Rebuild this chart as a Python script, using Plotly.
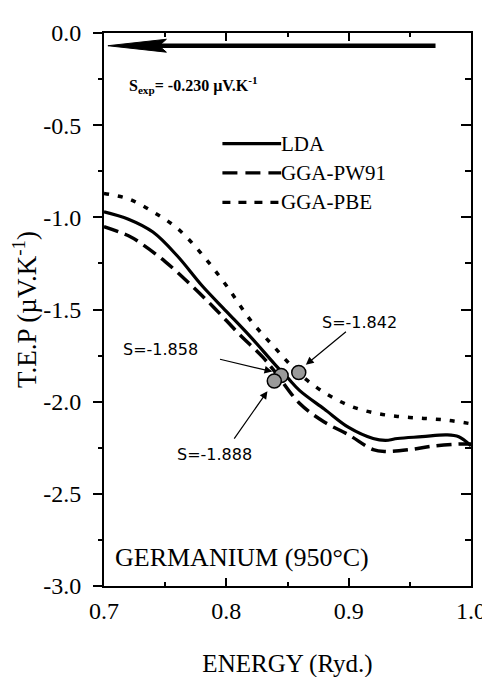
import plotly.graph_objects as go

# ---- data ----
lda_x = [0.70, 0.72, 0.74, 0.76, 0.78, 0.80, 0.82, 0.84, 0.85, 0.86, 0.88, 0.90, 0.92, 0.93, 0.94, 0.96, 0.98, 0.99, 1.00]
lda_y = [-0.97, -1.01, -1.08, -1.21, -1.37, -1.51, -1.65, -1.80, -1.87, -1.94, -2.04, -2.14, -2.20, -2.21, -2.20, -2.19, -2.18, -2.19, -2.24]

pw91_x = [0.70, 0.72, 0.73, 0.75, 0.77, 0.79, 0.81, 0.83, 0.84, 0.86, 0.88, 0.90, 0.92, 0.93, 0.95, 0.97, 0.99, 1.00]
pw91_y = [-1.05, -1.10, -1.14, -1.24, -1.36, -1.49, -1.63, -1.76, -1.84, -2.01, -2.11, -2.18, -2.26, -2.27, -2.26, -2.24, -2.23, -2.23]

pbe_x = [0.70, 0.72, 0.74, 0.76, 0.78, 0.80, 0.82, 0.84, 0.86, 0.88, 0.90, 0.92, 0.94, 0.96, 0.98, 1.00]
pbe_y = [-0.87, -0.90, -0.97, -1.06, -1.20, -1.37, -1.56, -1.71, -1.85, -1.95, -2.02, -2.06, -2.08, -2.09, -2.10, -2.12]

point_names = ["LDA", "GGA-PW91", "GGA-PBE"]
point_x = [0.8448, 0.8392, 0.8592]
point_y = [-1.858, -1.888, -1.842]
point_labels = ["S=-1.858", "S=-1.888", "S=-1.842"]

s_exp_text = "S<sub>exp</sub>= -0.230 µV.K<sup>-1</sup>"
sample_text = "GERMANIUM (950°C)"

x_ticks = [0.7, 0.8, 0.9, 1.0]
x_tick_labels = ["0.7", "0.8", "0.9", "1.0"]
y_ticks = [0.0, -0.5, -1.0, -1.5, -2.0, -2.5, -3.0]
y_tick_labels = ["0.0", "-0.5", "-1.0", "-1.5", "-2.0", "-2.5", "-3.0"]

SERIF = "Liberation Serif, Times New Roman, serif"
SANS = "DejaVu Sans"

fig = go.Figure()
fig.add_trace(go.Scatter(x=lda_x, y=lda_y, mode="lines", line=dict(color="black", width=3.2, shape="spline"), showlegend=False))
fig.add_trace(go.Scatter(x=pw91_x, y=pw91_y, mode="lines", line=dict(color="black", width=3.5, dash="15px,7px", shape="spline"), showlegend=False))
fig.add_trace(go.Scatter(x=pbe_x, y=pbe_y, mode="lines", line=dict(color="black", width=3.5, dash="5px,9px", shape="spline"), showlegend=False))
fig.add_trace(go.Scatter(x=point_x, y=point_y, mode="markers",
                         marker=dict(size=14, color="#9a9a9a", line=dict(color="black", width=1.5)),
                         showlegend=False))
# dummy trace for the right-side tick axis
fig.add_trace(go.Scatter(x=[], y=[], yaxis="y2", showlegend=False))

shapes = []
# experimental arrow
shapes.append(dict(type="line", xref="x", yref="y", x0=0.745, x1=0.971, y0=-0.069, y1=-0.069,
                   line=dict(color="black", width=4.5)))
shapes.append(dict(type="path", xref="x", yref="y",
                   path="M 0.7032,-0.069 L 0.751,-0.034 L 0.745,-0.069 L 0.751,-0.104 Z",
                   fillcolor="black", line=dict(color="black", width=1)))
# legend samples
leg_y = [(584 - 132) / 565, (584 - 162) / 565, (584 - 192) / 565]
leg_dash = ["solid", "15px,8px", "8px,8px"]
for yy, d in zip(leg_y, leg_dash):
    shapes.append(dict(type="line", xref="paper", yref="paper", x0=(217 - 96) / 375, x1=(277 - 96) / 375, y0=yy, y1=yy,
                       line=dict(color="black", width=3.2, dash=d)))

annotations = []
for yy, name in zip(leg_y, point_names):
    annotations.append(dict(xref="paper", yref="paper", x=(277 - 96) / 375, y=yy, text=name, showarrow=False,
                            xanchor="left", yanchor="middle", xshift=-2,
                            font=dict(family=SERIF, size=21, color="black")))
annotations.append(dict(xref="paper", yref="paper", x=0.062, y=0.906, text="<b>" + s_exp_text + "</b>",
                        showarrow=False, xanchor="left", yanchor="middle",
                        font=dict(family=SERIF, size=16, color="black")))
annotations.append(dict(xref="paper", yref="paper", x=0.025, y=0.051, text=sample_text, showarrow=False,
                        xanchor="left", yanchor="middle", font=dict(family=SERIF, size=26, color="black")))
# S labels
lab_pos = [(0.7464, -1.715), (0.7904, -2.289), (0.9088, -1.572)]
for (lx, ly), t in zip(lab_pos, point_labels):
    annotations.append(dict(x=lx, y=ly, text=t, showarrow=False, xanchor="center", yanchor="middle",
                            font=dict(family=SANS, size=16, color="black")))
# thin arrows
arrows = [((0.7936, -1.768), (0.8376, -1.837)),
          ((0.8056, -2.209), (0.8336, -1.943)),
          ((0.899, -1.614), (0.865, -1.80))]
for (tx, ty), (hx, hy) in arrows:
    annotations.append(dict(x=hx, y=hy, ax=tx, ay=ty, axref="x", ayref="y", xref="x", yref="y",
                            text="", showarrow=True, arrowhead=2, arrowsize=1.3, arrowwidth=1.2,
                            arrowcolor="black"))

fig.update_layout(
    width=490, height=677,
    margin=dict(l=96, r=19, t=19, b=93),
    plot_bgcolor="white", paper_bgcolor="white",
    font=dict(family=SERIF, color="black"),
    shapes=shapes, annotations=annotations,
    xaxis=dict(range=[0.7, 1.0], tickvals=x_ticks, ticktext=x_tick_labels,
               ticks="inside", ticklen=8, tickwidth=2, tickcolor="black",
               minor=dict(dtick=0.05, ticks="inside", ticklen=4, tickwidth=2, tickcolor="black"),
               showline=True, linecolor="black", linewidth=2, mirror="ticks",
               showgrid=False, zeroline=False, ticklabelstandoff=2,
               tickfont=dict(family=SERIF, size=24, color="black"),
               title=dict(text="ENERGY (Ryd.)", font=dict(family=SERIF, size=25, color="black"), standoff=32)),
    yaxis=dict(range=[-3.0, 0.0], tickvals=y_ticks, ticktext=y_tick_labels,
               ticks="outside", ticklen=9, tickwidth=2, tickcolor="black",
               minor=dict(dtick=0.25, ticks="outside", ticklen=4, tickwidth=2, tickcolor="black"),
               showline=True, linecolor="black", linewidth=2, mirror=True,
               showgrid=False, zeroline=False, ticklabelstandoff=7,
               tickfont=dict(family=SERIF, size=24, color="black"),
               title=dict(text="T.E.P (µV.K<sup>-1</sup>)", font=dict(family=SERIF, size=27, color="black"), standoff=4)),
    yaxis2=dict(range=[-3.0, 0.0], overlaying="y", side="right", tickvals=y_ticks,
                ticks="inside", ticklen=10, tickwidth=2, tickcolor="black",
                minor=dict(dtick=0.25, ticks="inside", ticklen=6, tickwidth=2, tickcolor="black"),
                showticklabels=False, showgrid=False, zeroline=False, showline=False),
)

fig.write_html("out.html")
